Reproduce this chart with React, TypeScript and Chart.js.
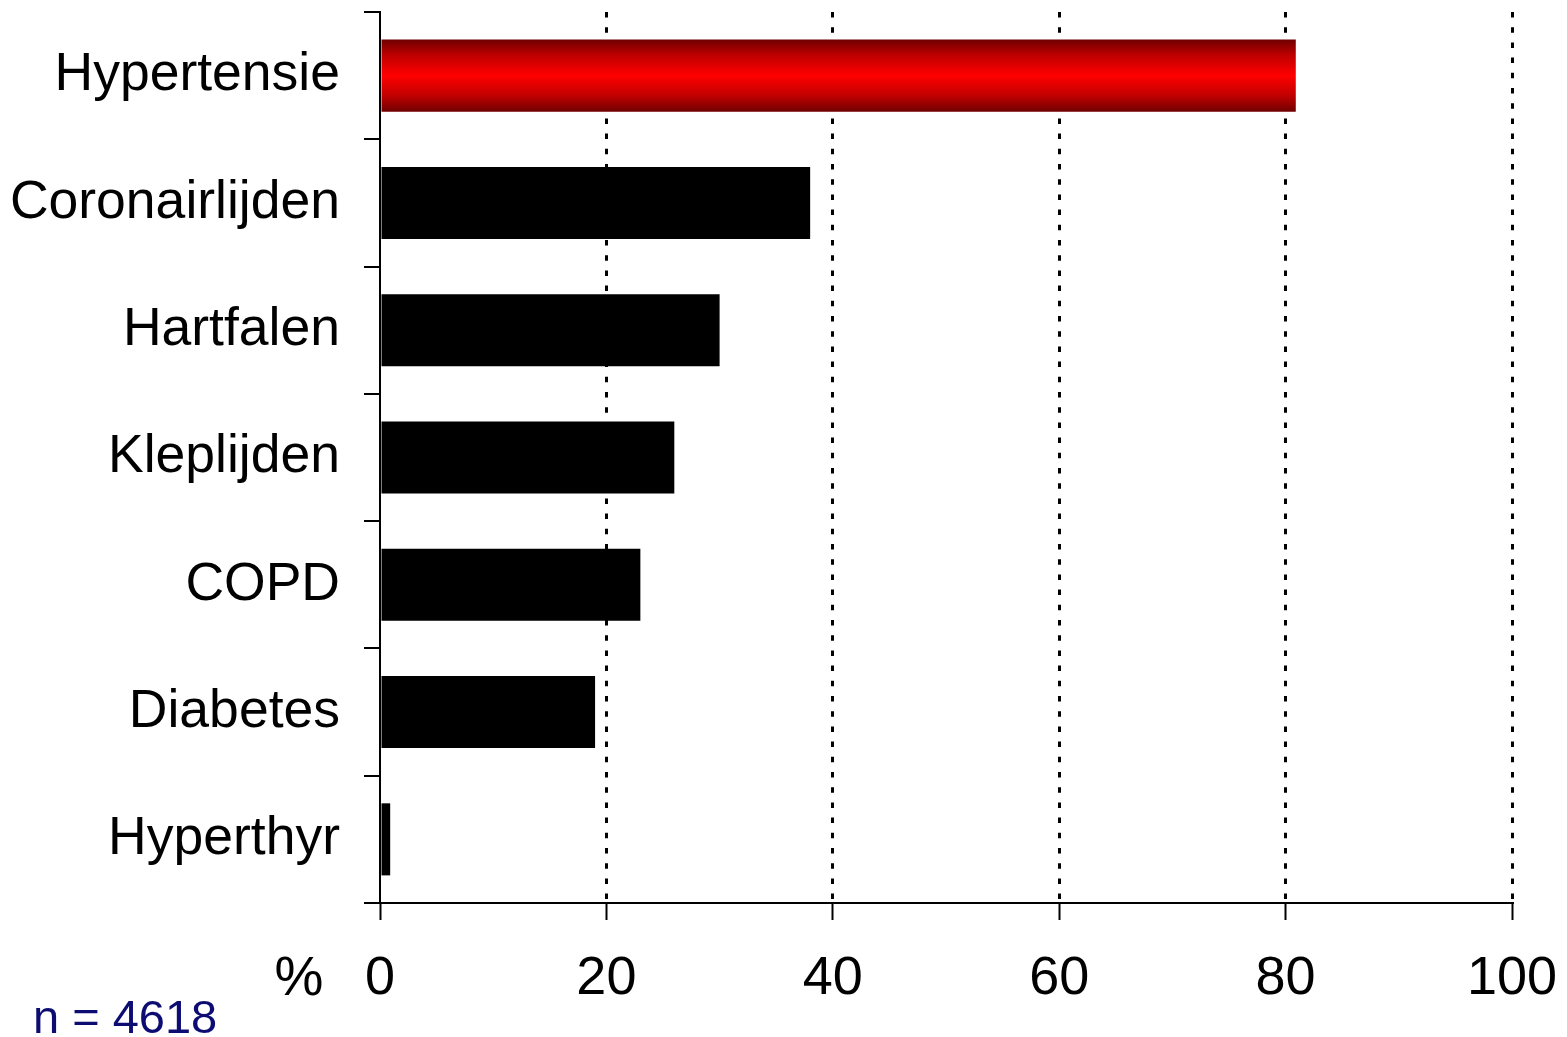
import React, { useEffect, useRef } from "react";
import { Chart, registerables } from "chart.js";

Chart.register(...registerables);

const categories = ["Hypertensie", "Coronairlijden", "Hartfalen", "Kleplijden", "COPD", "Diabetes", "Hyperthyr"];
const values = [80.9, 38.0, 30.0, 26.0, 23.0, 19.0, 0.9];
const xTicks = [0, 20, 40, 60, 80, 100];
const axisUnit = "%";
const sampleNote = "n = 4618";

const FONT = "'Liberation Sans', Arial, Helvetica, sans-serif";
const BAR_PCT = 0.566;

export default function App() {
  const ref = useRef<HTMLCanvasElement | null>(null);

  useEffect(() => {
    const canvas = ref.current;
    if (!canvas) return;

    const barColor = (ctx: any) => {
      if (ctx.dataIndex !== 0) return "#000000";
      const chart = ctx.chart;
      const ys = chart.scales && chart.scales.y;
      if (!ys || !isFinite(ys.top)) return "#ff0000";
      const center = ys.getPixelForValue(ctx.dataIndex);
      const band = (ys.bottom - ys.top) / categories.length;
      const th = band * BAR_PCT;
      const g = chart.ctx.createLinearGradient(0, center - th / 2, 0, center + th / 2);
      g.addColorStop(0, "#700000");
      g.addColorStop(0.22, "#c00000");
      g.addColorStop(0.5, "#ff0000");
      g.addColorStop(0.78, "#c00000");
      g.addColorStop(1, "#700000");
      return g;
    };

    const annotations = {
      id: "annotations",
      afterDraw(chart: any) {
        const c = chart.ctx;
        c.save();
        c.fillStyle = "#000000";
        c.font = `55px ${FONT}`;
        c.textAlign = "center";
        c.textBaseline = "alphabetic";
        c.fillText(axisUnit, 299, 995);
        c.fillStyle = "#0c0c72";
        c.font = `47px ${FONT}`;
        c.textAlign = "left";
        c.fillText(sampleNote, 33, 1033);
        c.restore();
      },
    };

    const chart = new Chart(canvas, {
      type: "bar",
      data: {
        labels: categories,
        datasets: [
          {
            data: values,
            backgroundColor: barColor as any,
            borderWidth: 0,
            barPercentage: BAR_PCT,
            categoryPercentage: 1,
          },
        ],
      },
      options: {
        indexAxis: "y",
        animation: false,
        responsive: false,
        maintainAspectRatio: false,
        layout: { padding: { left: 0, right: 55, top: 12, bottom: 0 } },
        plugins: {
          legend: { display: false },
          tooltip: { enabled: false },
          title: { display: false },
        },
        scales: {
          x: {
            type: "linear",
            min: 0,
            max: 100,
            afterBuildTicks: (scale: any) => {
              scale.ticks = xTicks.map((v) => ({ value: v }));
            },
            afterFit: (scale: any) => {
              scale.height = 134;
              scale.paddingLeft = 0;
              scale.paddingRight = 0;
              scale.paddingTop = 0;
              scale.paddingBottom = 0;
            },
            ticks: {
              color: "#000000",
              font: { family: FONT, size: 54 },
              padding: 27,
              maxRotation: 0,
              autoSkip: false,
            },
            grid: {
              display: true,
              drawOnChartArea: true,
              drawTicks: true,
              tickLength: 17,
              lineWidth: 3,
              color: (ctx: any) => (ctx.tick && ctx.tick.value === 0 ? "rgba(0,0,0,0)" : "#000000"),
              tickColor: "#000000",
              tickWidth: 2,
              tickBorderDash: [],
            },
            border: {
              display: true,
              color: "#000000",
              width: 2,
              dash: [5.5, 9.7],
            },
          },
          y: {
            type: "category",
            offset: true,
            afterFit: (scale: any) => {
              scale.width = 380;
              scale.paddingLeft = 0;
              scale.paddingRight = 0;
              scale.paddingTop = 0;
              scale.paddingBottom = 0;
            },
            ticks: {
              color: "#000000",
              font: { family: FONT, size: 53.5 },
              padding: 24,
              autoSkip: false,
            },
            grid: {
              display: true,
              offset: true,
              drawOnChartArea: false,
              drawTicks: true,
              tickLength: 16,
              color: "#000000",
              lineWidth: 2,
              tickColor: "#000000",
              tickWidth: 2,
            },
            border: {
              display: true,
              color: "#000000",
              width: 2,
            },
          },
        },
      },
      plugins: [annotations],
    });

    return () => {
      chart.destroy();
    };
  }, []);

  return (
    <div style={{ position: "absolute", left: 0, top: 0, width: 1567, height: 1037, background: "#ffffff" }}>
      <canvas ref={ref} width={1567} height={1037} style={{ display: "block", width: 1567, height: 1037 }} />
    </div>
  );
}
